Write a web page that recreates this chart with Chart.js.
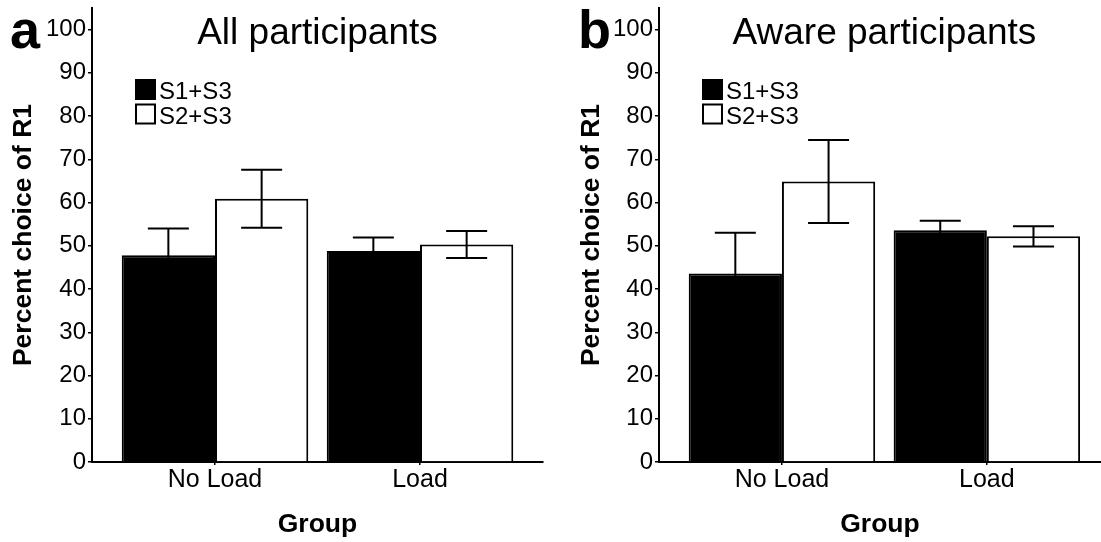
<!DOCTYPE html>
<html>
<head>
<meta charset="utf-8">
<script src="https://cdn.jsdelivr.net/npm/chart.js@4.4.0/dist/chart.umd.min.js"></script>
<style>
  body { margin: 0; background: #fff; }
  #wrap { position: relative; width: 1101px; height: 542px; overflow: hidden; }
  canvas { position: absolute; top: 0; }
</style>
</head>
<body>
<div id="wrap">
  <canvas id="panelA" width="550" height="542" style="left:0"></canvas>
  <canvas id="panelB" width="551" height="542" style="left:550px"></canvas>
</div>
<script>
const groups = ['No Load', 'Load'];
const seriesNames = ['S1+S3', 'S2+S3'];

// panel a: all participants
const allS1 = [47.8, 48.8];
const allS1Err = [6.2, 3.1];
const allS2 = [60.9, 50.3];
const allS2Err = [6.7, 3.1];

// panel b: aware participants
const awareS1 = [43.6, 53.6];
const awareS1Err = [9.4, 2.2];
const awareS2 = [64.9, 52.2];
const awareS2Err = [9.6, 2.35];

const FONT = "'Liberation Sans', Arial, sans-serif";

const errorBars = {
  id: 'errorBars',
  afterDatasetsDraw(chart, args, opts) {
    const { ctx } = chart;
    const yScale = chart.scales.y;
    const half = opts.capWidth / 2;
    ctx.save();
    ctx.strokeStyle = '#000';
    ctx.lineWidth = 2;
    chart.data.datasets.forEach((ds, i) => {
      chart.getDatasetMeta(i).data.forEach((bar, j) => {
        const v = ds.data[j].y;
        const e = ds.err[j];
        const top = yScale.getPixelForValue(v + e);
        const bot = yScale.getPixelForValue(v - e);
        ctx.beginPath();
        ctx.moveTo(bar.x, top); ctx.lineTo(bar.x, bot);
        ctx.moveTo(bar.x - half, top); ctx.lineTo(bar.x + half, top);
        ctx.moveTo(bar.x - half, bot); ctx.lineTo(bar.x + half, bot);
        ctx.stroke();
      });
    });
    ctx.restore();
  }
};

// panel letter, title and the little legend inside the plot
const panelDeco = {
  id: 'panelDeco',
  afterDraw(chart, args, opts) {
    const { ctx, chartArea } = chart;
    ctx.save();
    ctx.fillStyle = '#000';
    ctx.textBaseline = 'alphabetic';
    ctx.textAlign = 'left';
    ctx.font = `bold 54px ${FONT}`;
    ctx.fillText(opts.letter, opts.letterX, 48);

    ctx.textAlign = 'center';
    ctx.font = `37px ${FONT}`;
    ctx.fillText(opts.title, chart.scales.x.getPixelForValue(0.5), 44);

    const lx = chartArea.left + 43;
    ctx.textAlign = 'left';
    ctx.font = `24px ${FONT}`;
    chart.data.datasets.forEach((ds, i) => {
      const y = 79 + i * 24.5;
      if (ds.backgroundColor === '#000') {
        ctx.fillRect(lx, y, 21, 21);
      } else {
        ctx.lineWidth = 2;
        ctx.strokeStyle = '#000';
        ctx.strokeRect(lx + 1, y + 1, 19, 19);
      }
      ctx.fillText(ds.label, lx + 24, y + 20);
    });
    ctx.restore();
  }
};

function makePanel(id, cfg) {
  const ctx = document.getElementById(id).getContext('2d');
  // eslint-disable-next-line no-new
  new Chart(ctx, {
    type: 'bar',
    data: {
      datasets: [
        {
          label: seriesNames[0],
          data: groups.map((g, i) => ({ x: i, y: cfg.s1[i] })),
          err: cfg.s1Err,
          backgroundColor: '#000',
          borderColor: '#000',
          borderWidth: 2,
        },
        {
          label: seriesNames[1],
          data: groups.map((g, i) => ({ x: i, y: cfg.s2[i] })),
          err: cfg.s2Err,
          backgroundColor: '#fff',
          borderColor: '#000',
          borderWidth: 2,
        },
      ],
    },
    options: {
      responsive: false,
      animation: false,
      events: [],
      layout: { padding: { left: 0, top: 8, right: cfg.padRight, bottom: 0 } },
      datasets: { bar: { categoryPercentage: 0.91, barPercentage: 1.0 } },
      plugins: {
        legend: { display: false },
        tooltip: { enabled: false },
        errorBars: { capWidth: 41 },
        panelDeco: { letter: cfg.letter, letterX: cfg.letterX, title: cfg.title },
      },
      scales: {
        x: {
          type: 'linear',
          min: -0.6,
          max: cfg.xMax,
          offset: false,
          afterBuildTicks: (s) => { s.ticks = groups.map((g, i) => ({ value: i })); },
          afterFit: (s) => {
            s.height = 80;
            s.paddingLeft = 0;
            s.paddingRight = 0;
          },
          ticks: {
            callback: (v) => groups[v],
            font: { family: FONT, size: 25 },
            color: '#000',
            padding: 0,
            autoSkip: false,
            maxRotation: 0,
          },
          grid: { drawOnChartArea: false, offset: false, tickLength: 3, color: '#000', lineWidth: 1.5 },
          border: { color: '#000', width: 2 },
          title: {
            display: true,
            text: 'Group',
            color: '#000',
            font: { family: FONT, size: 26.5, weight: 'bold' },
            padding: { top: 0, bottom: 1 },
          },
        },
        y: {
          min: 0,
          max: 105,
          afterFit: (s) => {
            s.width = cfg.axisLeft;
            s.paddingTop = 0;
            s.paddingBottom = 0;
          },
          ticks: {
            stepSize: 10,
            includeBounds: false,
            font: { family: FONT, size: 24 },
            color: '#000',
            padding: 2,
          },
          grid: { drawOnChartArea: false, tickLength: 4, color: '#000', lineWidth: 1.5 },
          border: { color: '#000', width: 2 },
          title: {
            display: true,
            text: 'Percent choice of R1',
            color: '#000',
            font: { family: FONT, size: 26.5, weight: 'bold' },
            padding: { top: cfg.titlePad, bottom: 0 },
          },
        },
      },
    },
    plugins: [errorBars, panelDeco],
  });
}

makePanel('panelA', {
  s1: allS1, s1Err: allS1Err, s2: allS2, s2Err: allS2Err,
  letter: 'a', letterX: 10, title: 'All participants',
  axisLeft: 92, padRight: 7, titlePad: 8, xMax: 1.6,
});

makePanel('panelB', {
  s1: awareS1, s1Err: awareS1Err, s2: awareS2, s2Err: awareS2Err,
  letter: 'b', letterX: 28, title: 'Aware participants',
  axisLeft: 109, padRight: 0, titlePad: 26, xMax: 1.557,
});
</script>
</body>
</html>
